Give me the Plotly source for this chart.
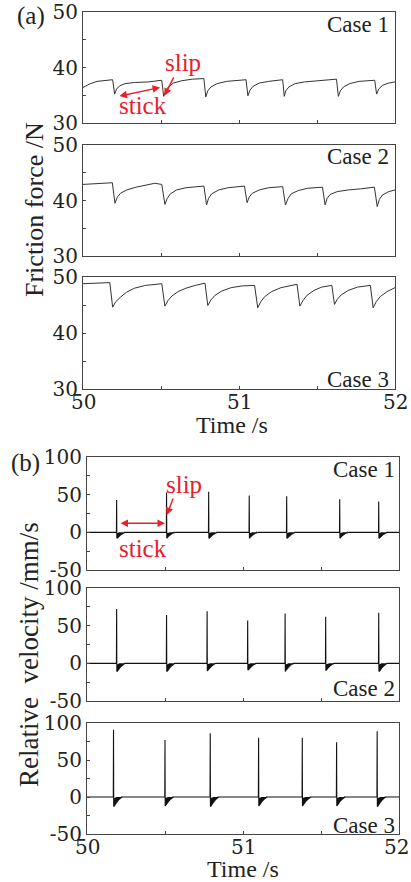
import plotly.graph_objects as go

W, H = 411, 882

# ---------------- data ----------------
T_RANGE = [50, 52]
X_TICKVALS = [50, 50.5, 51, 51.5, 52]
X_LABELVALS = [50, 51, 52]
X_LABELTEXT = ["50", "51", "52"]

FA_TICKVALS = [30, 35, 40, 45, 50]
FA_TICKTEXT = ["30", "", "40", "", "50"]
VB_TICKVALS = [-50, -25, 0, 25, 50, 75, 100]
VB_TICKTEXT = ["-50", "", "0", "", "50", "", "100"]

CASE_LABELS = ["Case 1", "Case 2", "Case 3"]

# Friction force, case 1
F1_T = [50.00, 50.04, 50.09, 50.15, 50.19,
        50.203, 50.215, 50.235, 50.27, 50.33, 50.42, 50.505,
        50.517, 50.53, 50.55, 50.58, 50.63, 50.70, 50.775,
        50.787, 50.80, 50.82, 50.86, 50.92, 50.98, 51.045,
        51.057, 51.07, 51.09, 51.13, 51.19, 51.28,
        51.29, 51.30, 51.32, 51.36, 51.42, 51.50, 51.625,
        51.637, 51.65, 51.67, 51.71, 51.77, 51.87,
        51.882, 51.895, 51.92, 51.96, 52.00]
F1_V = [36.4, 37.0, 37.5, 37.7, 37.8,
        35.2, 36.1, 36.7, 37.1, 37.3, 37.4, 37.7,
        34.8, 35.8, 36.6, 37.2, 37.6, 37.9, 38.0,
        34.7, 35.8, 36.5, 37.1, 37.5, 37.7, 37.8,
        34.9, 35.9, 36.6, 37.2, 37.5, 37.8,
        34.8, 35.8, 36.5, 37.1, 37.4, 37.6, 37.9,
        34.8, 35.8, 36.5, 37.1, 37.5, 37.7,
        35.2, 36.1, 36.8, 37.2, 37.4]

# Friction force, case 2
F2_T = [50.00, 50.06, 50.12, 50.188,
        50.205, 50.22, 50.24, 50.28, 50.34, 50.40, 50.46, 50.505,
        50.525, 50.54, 50.56, 50.60, 50.66, 50.775,
        50.792, 50.805, 50.825, 50.87, 50.93, 51.035,
        51.052, 51.065, 51.085, 51.13, 51.19, 51.28,
        51.298, 51.315, 51.335, 51.38, 51.44, 51.535,
        51.552, 51.565, 51.585, 51.63, 51.70, 51.78, 51.868,
        51.886, 51.90, 51.92, 51.96, 52.00]
F2_V = [42.9, 43.0, 43.1, 43.2,
        39.5, 40.6, 41.3, 41.9, 42.4, 42.7, 43.1, 42.9,
        39.3, 40.4, 41.2, 41.9, 42.3, 42.6,
        39.2, 40.4, 41.2, 41.9, 42.3, 42.6,
        39.6, 40.6, 41.3, 41.9, 42.3, 42.5,
        39.2, 40.4, 41.2, 41.8, 42.2, 42.4,
        39.2, 40.4, 41.1, 41.6, 41.9, 42.1, 42.4,
        38.9, 40.2, 41.0, 41.6, 41.9]

# Friction force, case 3
F3_T = [50.00, 50.08, 50.172,
        50.19, 50.21, 50.24, 50.28, 50.33, 50.40, 50.505,
        50.525, 50.545, 50.57, 50.61, 50.66, 50.72, 50.782,
        50.80, 50.82, 50.845, 50.89, 50.95, 51.02, 51.10,
        51.12, 51.14, 51.165, 51.21, 51.27, 51.372,
        51.39, 51.41, 51.435, 51.48, 51.53, 51.595,
        51.612, 51.63, 51.655, 51.70, 51.76, 51.842,
        51.86, 51.88, 51.905, 51.95, 52.00]
F3_V = [48.8, 48.9, 49.0,
        44.6, 45.6, 46.4, 47.3, 48.0, 48.5, 48.8,
        44.8, 45.8, 46.6, 47.4, 48.0, 48.5, 48.9,
        44.9, 45.9, 46.7, 47.5, 48.1, 48.4, 48.5,
        44.5, 45.6, 46.5, 47.4, 48.1, 48.7,
        44.8, 45.8, 46.7, 47.6, 48.2, 48.5,
        45.1, 46.0, 46.8, 47.6, 48.2, 48.5,
        44.5, 45.6, 46.5, 47.4, 48.1]

# Relative velocity: slip instants, spike peaks and post-slip dips
V1_SLIP_T = [50.19, 50.51, 50.78, 51.04, 51.28, 51.62, 51.87]
V1_PEAK = [43, 53, 54, 49, 48, 44, 41]
V1_DIP = [-8, -8, -8, -8, -8, -8, -8]

V2_SLIP_T = [50.19, 50.51, 50.77, 51.03, 51.27, 51.53, 51.87]
V2_PEAK = [72, 64, 69, 57, 66, 62, 67]
V2_DIP = [-11, -11, -10, -9, -11, -10, -11]

V3_SLIP_T = [50.17, 50.50, 50.79, 51.10, 51.38, 51.60, 51.86]
V3_PEAK = [91, 77, 86, 80, 80, 74, 89]
V3_DIP = [-13, -12, -13, -12, -12, -12, -13]

# ringing after each slip (fraction of dip), sampled every RING_STEP s
RING_STEP = 0.0016
RING_FRAC = [1.0, 0.15, 0.95, 0.1, 0.88, 0.1, 0.8, 0.05, 0.72, 0.05,
             0.64, 0.0, 0.56, 0.0, 0.49, 0.0, 0.42, 0.0, 0.36, 0.0,
             0.3, 0.0, 0.25, 0.0, 0.2, 0.0, 0.15, 0.0, 0.11, 0.0,
             0.07, 0.0, 0.04, 0.0, 0.02, 0.0]


def velocity_series(slips, peaks, dips):
    t, v = [T_RANGE[0]], [0.0]
    for ts, p, d in zip(slips, peaks, dips):
        t += [ts - 0.0015, ts]
        v += [0.0, p]
        for k, f in enumerate(RING_FRAC):
            t.append(ts + 0.0012 + k * RING_STEP)
            v.append(d * f)
    t.append(T_RANGE[1])
    v.append(0.0)
    return t, v


# ---------------- layout helpers ----------------
def PX(x):
    return x / W


def PY(y):
    return 1 - y / H


FONT = "Liberation Serif, Times New Roman, serif"
NUMFONT = "DejaVu Serif, serif"
TXT = "#222222"
AX = "#444444"
RED = "#e8202a"

xa_dom = [PX(83), PX(395)]
xb_dom = [PX(87), PX(399)]
y_doms = [
    [PY(123), PY(12)],
    [PY(256), PY(145)],
    [PY(389), PY(277)],
    [PY(570), PY(457)],
    [PY(701), PY(588)],
    [PY(834), PY(723)],
]

fig = go.Figure()

fseries = [(F1_T, F1_V), (F2_T, F2_V), (F3_T, F3_V)]
for i, (t, v) in enumerate(fseries):
    n = "" if i == 0 else str(i + 1)
    fig.add_trace(go.Scatter(x=t, y=v, mode="lines", xaxis="x" + n, yaxis="y" + n,
                             line=dict(color="#333333", width=1), showlegend=False,
                             hoverinfo="skip"))

vseries = [velocity_series(V1_SLIP_T, V1_PEAK, V1_DIP),
           velocity_series(V2_SLIP_T, V2_PEAK, V2_DIP),
           velocity_series(V3_SLIP_T, V3_PEAK, V3_DIP)]
for i, (t, v) in enumerate(vseries):
    n = str(i + 4)
    fig.add_trace(go.Scatter(x=t, y=v, mode="lines", xaxis="x" + n, yaxis="y" + n,
                             line=dict(color="#111111", width=1.1), showlegend=False,
                             hoverinfo="skip"))

layout = dict(width=W, height=H, margin=dict(l=0, r=0, t=0, b=0, pad=0),
              paper_bgcolor="white", plot_bgcolor="white",
              font=dict(family=FONT, color=TXT), showlegend=False)

for i in range(6):
    n = "" if i == 0 else str(i + 1)
    layout["xaxis" + n] = dict(
        domain=xa_dom if i < 3 else xb_dom, range=T_RANGE, anchor="y" + n,
        showline=True, mirror=True, linecolor=AX, linewidth=1,
        ticks="inside", ticklen=3, tickcolor=AX, tickwidth=1,
        tickmode="array", tickvals=X_TICKVALS,
        showticklabels=False, automargin=False,
        showgrid=False, zeroline=False, fixedrange=True)
    layout["yaxis" + n] = dict(
        domain=y_doms[i], range=[30, 50] if i < 3 else [-50, 100], anchor="x" + n,
        showline=True, mirror=True, linecolor=AX, linewidth=1,
        ticks="inside", ticklen=3, tickcolor=AX, tickwidth=1,
        tickmode="array",
        tickvals=FA_TICKVALS if i < 3 else VB_TICKVALS,
        ticktext=FA_TICKTEXT if i < 3 else VB_TICKTEXT,
        tickfont=dict(size=20, family=NUMFONT, color=TXT),
        automargin=False,
        showgrid=False, zeroline=False, fixedrange=True)

fig.update_layout(**layout)

ann = []


def text(x, y, s, size=23, color=TXT, xanchor="center", angle=0, family=FONT):
    ann.append(dict(x=PX(x), y=PY(y), xref="paper", yref="paper", text=s,
                    showarrow=False, xanchor=xanchor, yanchor="middle",
                    textangle=angle, font=dict(family=family, size=size, color=color)))


# x tick labels of the bottom axes
for xr, ypix in (("x3", 402), ("x6", 847)):
    for j, (v, s) in enumerate(zip(X_LABELVALS, X_LABELTEXT)):
        shift = -3 if (xr == "x6" and j == len(X_LABELVALS) - 1) else 0
        ann.append(dict(x=v, y=PY(ypix), xref=xr, yref="paper", text=s,
                        showarrow=False, xanchor="center", yanchor="middle",
                        xshift=shift,
                        font=dict(family=NUMFONT, size=20, color=TXT)))

# panel labels
text(31, 16, "(a)", size=25)
text(25, 463, "(b)", size=25)
# case labels
case_pos = [(391, 24), (391, 157), (391, 380), (397, 470), (397, 688), (397, 825)]
for k, (x, y) in enumerate(case_pos):
    text(x, y, CASE_LABELS[k % 3], size=23, xanchor="right")
# axis titles
text(232, 425, "Time /s", size=24)
text(243, 869, "Time /s", size=24)
text(34, 210, "Friction force /N", size=26, angle=-90)
text(29, 655, "Relative  velocity /mm/s", size=27, angle=-90)

# slip / stick annotations
text(183, 62, "slip", size=25, color=RED)
text(143, 105, "stick", size=25, color=RED)
text(184, 484, "slip", size=25, color=RED)
text(143, 548, "stick", size=25, color=RED)

ann.append(dict(x=50.522, y=34.9, xref="x", yref="y", ax=10, ay=-20, text="",
                showarrow=True, arrowhead=2, arrowsize=1, arrowwidth=1.5, arrowcolor=RED))
ann.append(dict(x=50.494, y=36.4, xref="x", yref="y", ax=50.224, ay=34.8,
                axref="x", ayref="y", text="", showarrow=True, arrowhead=2,
                startarrowhead=2, arrowside="end+start", arrowsize=1,
                arrowwidth=1.5, arrowcolor=RED))
ann.append(dict(x=50.511, y=23, xref="x4", yref="y4", ax=7, ay=-18, text="",
                showarrow=True, arrowhead=2, arrowsize=1, arrowwidth=1.5, arrowcolor=RED))
ann.append(dict(x=50.50, y=12, xref="x4", yref="y4", ax=50.205, ay=12,
                axref="x4", ayref="y4", text="", showarrow=True, arrowhead=2,
                startarrowhead=2, arrowside="end+start", arrowsize=1,
                arrowwidth=1.5, arrowcolor=RED))

fig.update_layout(annotations=ann)
fig.write_html("out.html", config={"displayModeBar": False})
